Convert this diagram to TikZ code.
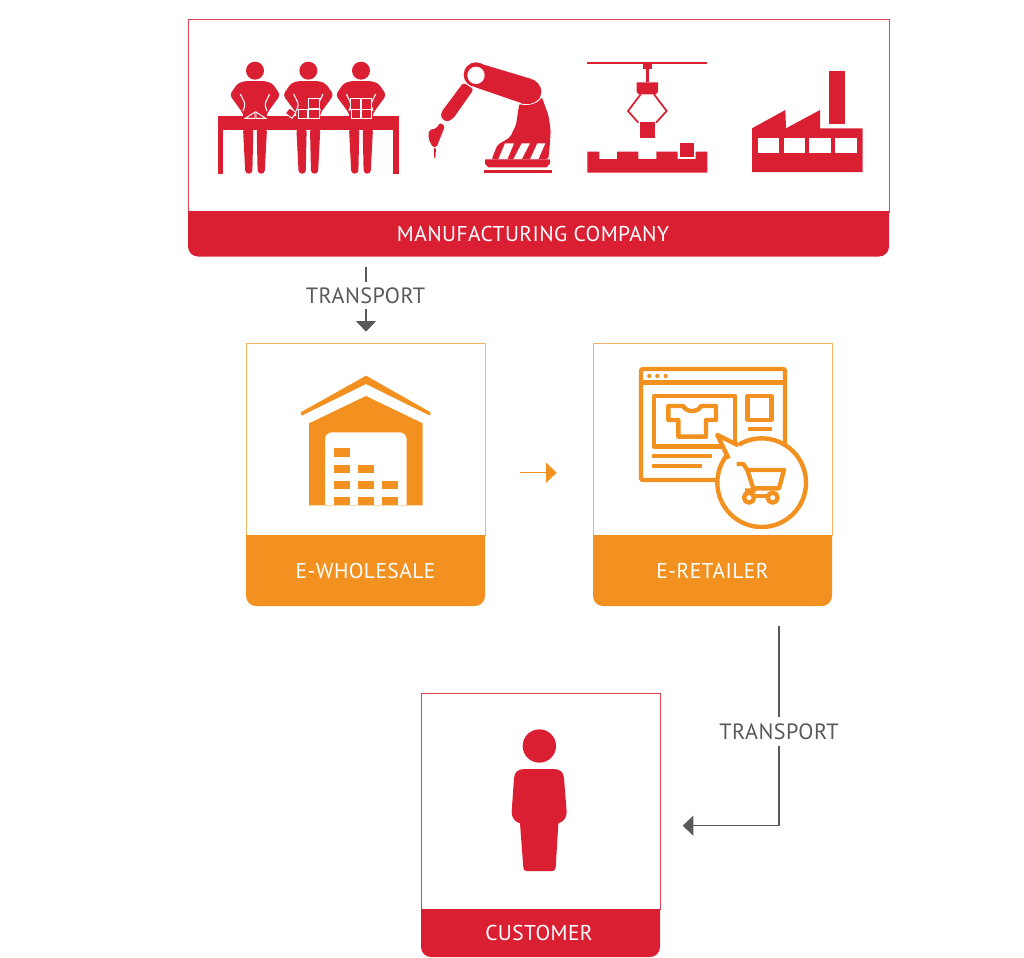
\documentclass[tikz,border=0pt]{standalone}
\usepackage{fontspec}
\setmainfont[LetterSpace=2.0]{PT Sans}
\usetikzlibrary{arrows.meta}
\definecolor{cred}{HTML}{DA1F33}
\definecolor{corange}{HTML}{F29120}
\definecolor{cgray}{HTML}{58595B}
\tikzset{
  panelred/.style={draw=cred!85!white,line width=.7pt,fill=white,inner sep=0pt},
  panelorange/.style={draw=corange!70!white,line width=.7pt,fill=white,inner sep=0pt},
  banner/.style={text=white,font=\fontsize{16.1}{18}\selectfont,inner sep=0pt},
  lab/.style={text=cgray,font=\fontsize{16.6}{18}\selectfont,inner sep=0pt},
  conn/.style={draw=cgray,line width=.8pt},
  connor/.style={draw=corange,line width=1pt},
  zoomed/.style={x=.25pt,y=-.25pt},
}
\newcommand{\wholeperson}[1]{%
  \begin{scope}[shift={(#1,0)}]
    \fill[cred] (-27,62) arc[start angle=180,end angle=540,radius=27];
    \fill[cred,rounded corners=2.5pt] (-30,93) -- (30,93) -- (52,100) -- (76,135) -- (36,190) -- (34,205) -- (-34,205) -- (-36,190) -- (-76,135) -- (-52,100) -- cycle;
    \draw[white,line width=.8pt,rounded corners=1.5pt] (-44,132) -- (-29,163) -- (-36,183);
    \draw[white,line width=.8pt,rounded corners=1.5pt] (44,132) -- (29,163) -- (36,183);
    \fill[cred,rounded corners=2.5pt] (-36,235) -- (-5,235) -- (-8,371) -- (-29,371) -- cycle;
    \fill[cred,rounded corners=2.5pt] (5,235) -- (36,235) -- (29,371) -- (8,371) -- cycle;
  \end{scope}}
\begin{document}
\begin{tikzpicture}[x=.75pt,y=-.75pt]
\useasboundingbox (0,0) rectangle (1024,957);
\fill[white] (0,0) rectangle (1024,957);

% ---------- panels
\node[panelred,minimum width=525.75pt,minimum height=144.75pt] (mfg) at (538.5,115.5) {};
\fill[cred] (188,211) [rounded corners=7.5pt] -- (188,256.5) -- (889,256.5) [sharp corners] -- (889,211) -- cycle;
\node[banner] (mfglab) at (533,234) {MANUFACTURING COMPANY};

\node[panelorange,minimum width=179.25pt,minimum height=144pt] (whole) at (365.5,439) {};
\fill[corange] (246,535) [rounded corners=7.5pt] -- (246,606) -- (485,606) [sharp corners] -- (485,535) -- cycle;
\node[banner] (wholelab) at (365.5,571) {E-WHOLESALE};

\node[panelorange,minimum width=179.25pt,minimum height=144pt] (retail) at (712.5,439) {};
\fill[corange] (593,535) [rounded corners=7.5pt] -- (593,606) -- (832,606) [sharp corners] -- (832,535) -- cycle;
\node[banner] (retaillab) at (712.5,571) {E-RETAILER};

\node[panelred,minimum width=179.25pt,minimum height=162pt] (cust) at (540.5,801) {};
\fill[cred] (421,909) [rounded corners=7.5pt] -- (421,957) -- (660,957) [sharp corners] -- (660,909) -- cycle;
\node[banner] (custlab) at (539,933) {CUSTOMER};

% ---------- connectors
\coordinate (a1) at (366,266.7);
\coordinate (a2) at (366,331.7);
\node[lab] (t1) at (365.5,295.3) {TRANSPORT};
\draw[conn] (a1) -- (366,281.7);
\draw[conn,-{Triangle[length=8pt,width=15pt]}] (366,309.3) -- (a2);

\coordinate (b1) at (520,472.7);
\coordinate (b2) at (556.7,472.7);
\draw[connor,-{Triangle[length=8pt,width=15pt]}] (b1) -- (b2);

\coordinate (c1) at (779,626);
\coordinate (c2) at (779,825.7);
\coordinate (c3) at (682.7,825.7);
\node[lab] (t2) at (779,731.7) {TRANSPORT};
\draw[conn] (c1) -- (779,717);
\draw[conn,-{Triangle[length=8pt,width=15pt]}] (779,745.7) -- (c2) -- (c3);

% ---------- workers (zoom coordinates)
\begin{scope}[shift={(200,50)},zoomed]
  \fill[cred] (53,197) rectangle (597,240);
  \fill[cred] (53,240) rectangle (70,371);
  \fill[cred] (580,240) rectangle (597,371);
  \wholeperson{165}\wholeperson{325}\wholeperson{483}
  \begin{scope}[draw=white,fill=cred,line width=.7pt]
    \filldraw (136,205) -- (165,186) -- (165,205) -- cycle;
    \filldraw (168,186) -- (197,205) -- (168,205) -- cycle;
    \filldraw (325,145) rectangle (357,176);
    \filldraw (325,178) rectangle (357,205);
    \filldraw (294,178) rectangle (323,205);
    \filldraw (256,190) -- (268,174) -- (288,186) -- (276,205) -- cycle;
    \filldraw (452,145) rectangle (482,177);
    \filldraw (485,145) rectangle (515,177);
    \filldraw (453,179) rectangle (482,205);
    \filldraw (485,179) rectangle (515,205);
  \end{scope}
\end{scope}

% ---------- robot arm
\begin{scope}[shift={(420,50)},zoomed]
  \fill[cred,rounded corners=1.5pt] (298,160) -- (365,140) -- (385,195) -- (392,240) -- (390,278) -- (385,328) -- (215,328) -- (232,285) -- (270,262) -- (288,225) -- cycle;
  \fill[white] (255,280) -- (282,280) -- (262,328) -- (235,328) -- cycle;
  \fill[white] (305,280) -- (330,280) -- (305,328) -- (280,328) -- cycle;
  \fill[white] (352,280) -- (376,280) -- (355,328) -- (330,328) -- cycle;
  \fill[cred] (195,328) -- (390,328) -- (390,340) -- (380,352) -- (205,352) -- (195,342) -- cycle;
  \fill[cred] (193,360) rectangle (396,368);
  \draw[white,line width=.8pt] (296,160) .. controls (320,168) and (350,162) .. (366,140);
  \fill[cred] (168,74) circle[radius=37];
  \fill[cred,rounded corners=3pt] (168,37) -- (345,90) -- (364,112) -- (364,138) -- (345,158) -- (318,164) -- (155,108) -- cycle;
  \fill[white] (168,76) circle[radius=26];
  \fill[cred,rounded corners=2pt] (130,98) -- (161,118) -- (100,205) -- (80,216) -- (62,202) -- (65,185) -- cycle;
  \fill[cred,rounded corners=1.5pt] (60,218) -- (75,228) -- (55,278) -- (50,292) -- (38,292) -- (25,265) -- (27,240) -- (50,235) -- cycle;
  \fill[cred] (41,295) -- (48,295) -- (46,325) -- (43,325) -- cycle;
\end{scope}

% ---------- gantry and factory
\begin{scope}[shift={(570,50)},zoomed]
  \fill[cred] (52,35) rectangle (412,42);
  \fill[cred] (218,42) rectangle (246,57);
  \fill[cred] (228,57) rectangle (236,97);
  \fill[cred] (200,97) -- (264,97) -- (264,125) -- (258,133) -- (206,133) -- (200,125) -- cycle;
  \draw[cred,line width=1.3pt] (212,133) -- (174,183) -- (205,218);
  \draw[cred,line width=1.3pt] (252,133) -- (290,183) -- (258,218);
  \fill[cred] (209,217) rectangle (256,264);
  \fill[cred] (52,305) -- (88,305) -- (88,327) -- (141,327) -- (141,305) -- (205,305) -- (205,327) -- (259,327) -- (259,305) -- (323,305) -- (323,327) -- (377,327) -- (377,305) -- (412,305) -- (412,368) -- (52,368) -- cycle;
  \fill[cred] (330,280) rectangle (372,322);
  % factory
  \fill[cred] (777,62) rectangle (826,223);
  \fill[cred] (546,235) -- (646,180) -- (648,235) -- (750,180) -- (750,235) -- (878,235) -- (878,366) -- (546,366) -- cycle;
  \fill[white] (563,264) rectangle (627,310);
  \fill[white] (641,264) rectangle (705,310);
  \fill[white] (718,264) rectangle (782,310);
  \fill[white] (796,264) rectangle (860,310);
\end{scope}

% ---------- warehouse
\begin{scope}[shift={(280,360)},zoomed,fill=corange]
  \fill (62,157) -- (258,47) -- (452,157) -- (450,167) -- (258,72) -- (65,167) -- cycle;
  \fill[even odd rule] (87,190) -- (258,108) -- (428,190) -- (428,436) -- (87,436) -- cycle
     (135,437) [rounded corners=5pt] -- (135,217) -- (380,217) [sharp corners] -- (380,437) -- cycle;
  \fill (161,265) rectangle (209,290);
  \fill (161,315) rectangle (209,339);
  \fill (233,315) rectangle (281,339);
  \foreach \yy in {363,411}{
    \fill (161,\yy) rectangle (209,\yy+24);
    \fill (233,\yy) rectangle (281,\yy+24);
    \fill (307,\yy) rectangle (355,\yy+24);
  }
\end{scope}

% ---------- web shop
\begin{scope}[shift={(630,360)},zoomed]
  \begin{scope}[draw=corange,line width=3.3pt,line join=round]
    \draw[rounded corners=1.5pt] (33,27) rectangle (465,360);
    \draw (33,68) -- (465,68);
    \draw (72,108) rectangle (315,260);
    \draw (353,108) rectangle (425,180);
    \draw (355,207) -- (425,207);
    \draw (67,288) -- (245,288);
    \draw (67,318) -- (215,318);
    \draw (115,138) -- (160,138) .. controls (168,158) and (205,158) .. (213,138) -- (258,138) -- (258,180) -- (228,180) -- (228,230) -- (145,230) -- (145,180) -- (115,180) -- cycle;
    \filldraw[fill=white] (395,368) circle[radius=133];
    \fill[white] (328,258) -- (262,225) -- (298,300) -- (340,280) -- cycle;
    \draw (325,256) -- (262,225) -- (296,296);
    \draw (320,312) -- (340,312) -- (352,330) -- (372,392) -- (345,392);
    \draw (352,330) -- (462,330) -- (447,385) -- (370,385);
    \draw (362,408) -- (420,408);
    \filldraw[fill=white] (357,413) circle[radius=15];
    \filldraw[fill=white] (428,413) circle[radius=15];
  \end{scope}
  \fill[corange] (58,48) circle[radius=6.5] (82,48) circle[radius=6.5] (107,48) circle[radius=6.5];
\end{scope}

% ---------- customer
\begin{scope}[shift={(490,720)},zoomed]
  \fill[cred] (148,78) circle[radius=50];
  \fill[cred] (72,175) .. controls (73,155) and (85,147) .. (105,147) -- (190,147) .. controls (210,147) and (221,155) .. (222,175) -- (230,275) .. controls (230,295) and (220,305) .. (205,310) -- (197,443) .. controls (196,450) and (192,453) .. (187,453) -- (110,453) .. controls (104,453) and (100,450) .. (100,443) -- (90,310) .. controls (75,305) and (65,295) .. (65,275) -- cycle;
\end{scope}
\end{tikzpicture}
\end{document}
